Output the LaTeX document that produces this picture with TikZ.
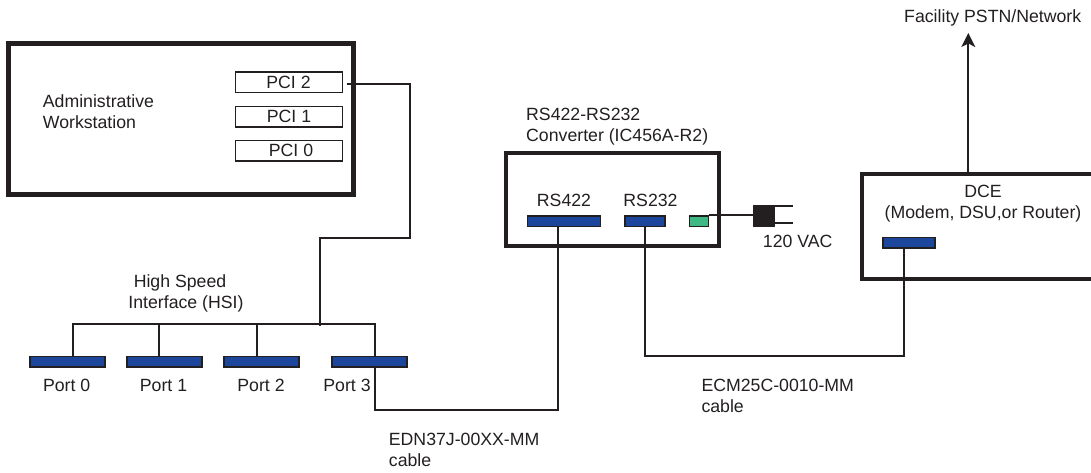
\documentclass[tikz,border=0pt]{standalone}
\usepackage{fontspec}
\setmainfont{Liberation Sans}
\usetikzlibrary{positioning,arrows.meta}
\definecolor{inkdark}{HTML}{231F20}
\definecolor{portblue}{HTML}{1C469C}
\definecolor{powergreen}{HTML}{3FB984}
\tikzset{
  lbl/.style={inner sep=0pt,text=inkdark,font=\fontsize{17.7}{21}\selectfont,align=left},
  lblb/.style={lbl,anchor=base west},
  lblc/.style={lbl,anchor=base},
  chassis/.style={draw=inkdark,line width=4pt,inner sep=0pt},
  slotbox/.style={draw=inkdark,line width=1.5pt,inner sep=0pt,minimum width=107pt,minimum height=20.5pt},
  portbox/.style={draw=inkdark,fill=portblue,line width=1.7pt,inner sep=0pt,minimum height=10.5pt},
  wire/.style={draw=inkdark,line width=1.7pt},
  thickwire/.style={draw=inkdark,line width=2.3pt}
}
\begin{document}
\begin{tikzpicture}[x=1pt,y=-1pt]
\useasboundingbox (0,0) rectangle (1091,473);
% workstation
\node[chassis,line width=5pt,minimum width=345.5pt,minimum height=151pt] (ws) at (181.2,119) {};
\node[slotbox] (pci2) at (289,82.5) {};
\node[slotbox] (pci1) at (289,116.7) {};
\node[slotbox] (pci0) at (289,151) {};
\node[lblc] (pci2t) at (288.5,89) {PCI 2};
\node[lblc] (pci1t) at (289,123) {PCI 1};
\node[lblc] (pci0t) at (291,157) {PCI 0};
\node[lblb] (wst) at (42.7,129) {Administrative\\[0pt]Workstation};
% hsi ports
\node[portbox,minimum width=75pt] (port0) at (67.6,361.7) {};
\node[portbox,minimum width=75pt] (port1) at (164.8,361.7) {};
\node[portbox,minimum width=75pt] (port2) at (261.8,361.7) {};
\node[portbox,minimum width=75pt] (port3) at (369.8,361.7) {};
\node[lblc] (port0t) at (66.7,391) {Port 0};
\node[lblc] (port1t) at (163.5,391) {Port 1};
\node[lblc] (port2t) at (261,391) {Port 2};
\node[lblc] (port3t) at (347,391) {Port 3};
\node[lblc] (hsia) at (180,287) {High Speed};
\node[lblc] (hsib) at (186,308) {Interface (HSI)};
\coordinate (busl) at (73,323.7);
\coordinate (busr) at (375,323.7);
\coordinate (bust) at (320.3,326);
\coordinate (jogl) at (320.3,238.3);
\coordinate (jogr) at (410.3,238.3);
\draw[wire] (port0.north -| busl) -- (busl) -- (busr) -- (port3.north -| busr);
\draw[wire] (port1.north -| 159.3,0) -- (159.3,323.7);
\draw[wire] (port2.north -| 256.7,0) -- (256.7,323.7);
\draw[thickwire] (347,84.3) -- (410.3,84.3) -- (jogr) -- (jogl) -- (bust);
% converter
\node[chassis,minimum width=213pt,minimum height=93pt] (conv) at (612.7,199.4) {};
\node[lblb] (convt) at (526,141.7) {RS422-RS232\\[0pt]Converter (IC456A-R2)};
\node[portbox,minimum width=73pt] (rs422) at (564,221.3) {};
\node[portbox,minimum width=40.5pt] (rs232) at (645,221.3) {};
\node[portbox,fill=powergreen,minimum width=19pt] (pwr) at (699,221.3) {};
\node[lblc] (rs422t) at (564,206) {RS422};
\node[lblc] (rs232t) at (650.5,206) {RS232};
% plug
\node[fill=inkdark,inner sep=0pt,minimum width=22pt,minimum height=21.7pt] (plug) at (763.7,216) {};
\coordinate (prong1) at (792.5,205.7);
\coordinate (prong2) at (792.5,223);
\draw[wire] (pwr.north east) -- (plug.west |- pwr.north east);
\draw[wire] (plug.east |- prong1) -- (prong1);
\draw[wire] (plug.east |- prong2) -- (prong2);
\node[lblb] (vac) at (762.7,247.3) {120 VAC};
% dce
\coordinate (dcenw) at (862.3,174);
\coordinate (dcesw) at (862.3,278.7);
\draw[inkdark,line width=4pt,line join=miter] (1091,174) -- (dcenw) -- (dcesw) -- (1091,278.7);
\node[portbox,minimum width=52pt] (dceport) at (909,242.8) {};
\node[lblc] (dcea) at (983,197) {DCE};
\node[lblc] (dceb) at (983,218) {(Modem, DSU,or Router)};
\node[lblb] (net) at (904,22.7) {Facility PSTN/Network};
\coordinate (netup) at (968.3,33);
\draw[-{Stealth[length=14pt,width=14pt,inset=3.5pt]},inkdark,line width=1.7pt] (netup |- dcenw) -- (netup);
% cables
\coordinate (cabl) at (375,410);
\coordinate (cabr) at (558.3,410);
\draw[wire] (port3.south -| cabl) -- (cabl) -- (cabr) -- (rs422.south -| cabr);
\coordinate (ecml) at (644.7,355.7);
\coordinate (ecmr) at (903.7,355.7);
\draw[wire] (rs232.south -| ecml) -- (ecml) -- (ecmr) -- (dceport.south -| ecmr);
\node[lblb] (edn) at (388.7,466) {EDN37J-00XX-MM\\[0pt]cable};
\node[lblb] (ecm) at (701.3,412) {ECM25C-0010-MM\\[0pt]cable};
\end{tikzpicture}
\end{document}
